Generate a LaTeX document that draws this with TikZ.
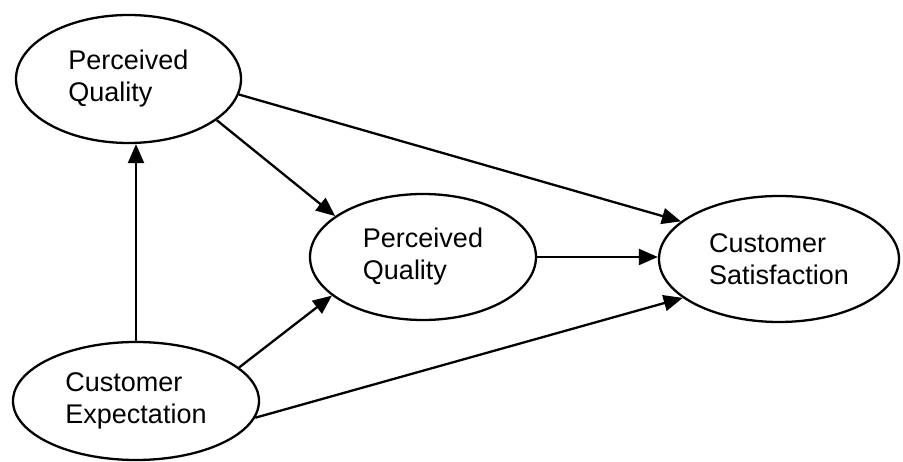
\documentclass[tikz,border=0pt]{standalone}
\usepackage{fontspec}
\setmainfont{Liberation Sans}
\usetikzlibrary{shapes.geometric,arrows.meta}
\begin{document}
\begin{tikzpicture}[x=1pt,y=1pt,
  construct/.style={ellipse,draw=black,line width=2.3pt,inner sep=0pt,
    align=left,font=\fontsize{27}{32}\selectfont},
  path arrow/.style={draw=black,line width=2.3pt,
    -{Triangle[length=19pt,width=16pt]}}]
\useasboundingbox (0,0) rectangle (903,462);
\fill[white] (0,0) rectangle (903,462);

% constructs
\node[construct,minimum width=225pt,minimum height=128pt] (pq1) at (128.5,383) {Perceived\\Quality};
\node[construct,minimum width=226pt,minimum height=126pt] (pq2) at (423,205) {Perceived\\Quality};
\node[construct,minimum width=240pt,minimum height=126pt] (cs) at (779,203) {Customer\\Satisfaction};
\node[construct,minimum width=246pt,minimum height=118pt] (ce) at (136,61) {Customer\\Expectation};

% paths
\draw[path arrow] (ce.north) -- (ce.north |- pq1.south);
\draw[path arrow] (pq1.-25) -- (pq2.155);
\draw[path arrow] (pq1.-8) -- (cs.159.5);
\draw[path arrow] (pq2.east) -- (pq2.east -| cs.west);
\draw[path arrow] (ce.18.6) -- (pq2.-157);
\draw[path arrow] (ce.-8) -- (cs.-158);
\end{tikzpicture}
\end{document}
